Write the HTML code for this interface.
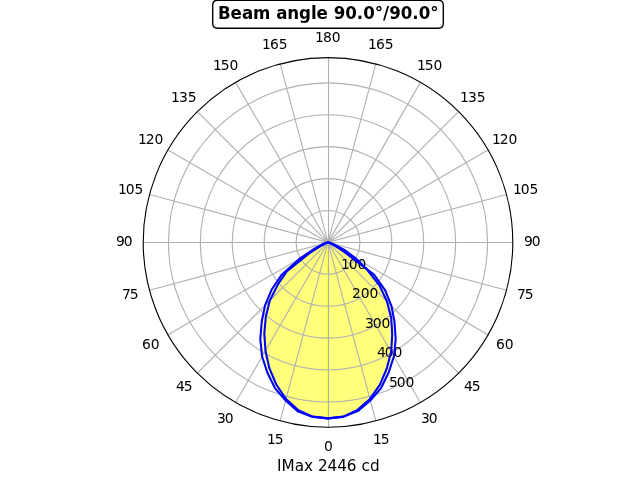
<!DOCTYPE html>
<html><head><meta charset="utf-8"><title>Beam angle 90.0°/90.0°</title><style>html,body{margin:0;padding:0;background:#fff;overflow:hidden}svg{display:block;will-change:transform}</style></head><body>
<svg width="640" height="480" viewBox="0 0 640 480">
<rect width="640" height="480" fill="#fff"/>
<path d="M328.00 418.40L312.73 416.90L298.16 411.61L285.64 400.51L274.96 388.12L267.32 372.53L262.11 356.52L260.29 339.11L261.75 321.35L265.05 305.35L271.54 289.78L281.48 274.98L298.99 259.15L314.99 248.47L322.00 244.58L325.84 242.98L327.37 242.51L327.68 242.43L328.00 242.40L328.00 418.40 Z" fill="#ffff00" fill-opacity="0.3" stroke="#ffff00" stroke-opacity="0.3" stroke-width="1.3889" stroke-linejoin="round"/>
<path d="M328.00 418.40L343.27 416.90L357.75 411.14L370.36 400.51L381.04 388.12L388.68 372.53L393.89 356.52L395.71 339.11L394.45 321.59L391.40 305.80L385.20 290.39L374.00 274.61L343.20 251.17L333.78 245.10L330.40 243.27L328.92 242.65L328.31 242.46L328.16 242.41L328.00 242.40L328.00 418.40 Z" fill="#ffff00" fill-opacity="0.3" stroke="#ffff00" stroke-opacity="0.3" stroke-width="1.3889" stroke-linejoin="round"/>
<path d="M328.00 418.40L312.76 416.59L298.41 410.20L286.05 398.97L276.27 384.52L269.34 368.19L265.46 350.72L264.31 333.36L265.86 316.46L269.79 300.61L277.89 284.44L286.70 271.32L309.49 253.09L320.77 245.77L325.00 243.49L325.84 242.98L327.37 242.51L327.68 242.43L328.00 242.40L328.00 418.40 Z" fill="#ffff00" fill-opacity="0.3" stroke="#ffff00" stroke-opacity="0.3" stroke-width="1.3889" stroke-linejoin="round"/>
<path d="M328.00 418.40L343.24 416.59L357.53 409.88L369.95 398.97L379.84 384.82L386.79 368.48L391.18 351.82L392.24 334.14L391.17 317.68L386.89 301.29L379.57 285.68L367.21 269.85L355.63 258.35L345.35 250.49L335.50 245.13L330.47 243.06L328.94 242.57L328.32 242.43L328.00 242.40L328.00 418.40 Z" fill="#ffff00" fill-opacity="0.3" stroke="#ffff00" stroke-opacity="0.3" stroke-width="1.3889" stroke-linejoin="round"/>
<path d="M328.50 242.40L328.50 427.20M328.00 242.40L375.83 420.90M328.00 242.40L420.40 402.44M328.00 242.40L458.67 373.07M328.00 242.40L488.04 334.80M328.00 242.40L506.50 290.23M328.00 242.50L512.80 242.50M328.00 242.40L506.50 194.57M328.00 242.40L488.04 150.00M328.00 242.40L458.67 111.73M328.00 242.40L420.40 82.36M328.00 242.40L375.83 63.90M328.50 242.40L328.50 57.60M328.00 242.40L280.17 63.90M328.00 242.40L235.60 82.36M328.00 242.40L197.33 111.73M328.00 242.40L167.96 150.00M328.00 242.40L149.50 194.57M328.00 242.50L143.20 242.50M328.00 242.40L149.50 290.23M328.00 242.40L167.96 334.80M328.00 242.40L197.33 373.07M328.00 242.40L235.60 402.44M328.00 242.40L280.17 420.90" stroke="#b0b0b0" stroke-width="1.1111" stroke-linecap="square" fill="none"/>
<circle cx="328.00" cy="242.40" r="31.907" stroke="#b0b0b0" stroke-width="1.1111" fill="none"/>
<circle cx="328.00" cy="242.40" r="63.814" stroke="#b0b0b0" stroke-width="1.1111" fill="none"/>
<circle cx="328.00" cy="242.40" r="95.722" stroke="#b0b0b0" stroke-width="1.1111" fill="none"/>
<circle cx="328.00" cy="242.40" r="127.629" stroke="#b0b0b0" stroke-width="1.1111" fill="none"/>
<circle cx="328.00" cy="242.40" r="159.536" stroke="#b0b0b0" stroke-width="1.1111" fill="none"/>
<g font-family="DejaVu Sans, Liberation Sans, sans-serif" text-anchor="middle" fill="#000">
<text x="323.875" y="450.992" font-size="13.8889" text-anchor="start">0</text>
<text x="372.875 380.750" y="443.907" font-size="13.8889" text-anchor="start">15</text>
<text x="420.875 428.625" y="423.003" font-size="13.8889" text-anchor="start">30</text>
<text x="463.875 471.625" y="391.045" font-size="13.8889" text-anchor="start">45</text>
<text x="495.875 504.750" y="348.994" font-size="13.8889" text-anchor="start">60</text>
<text x="516.875 524.625" y="298.985" font-size="13.8889" text-anchor="start">75</text>
<text x="523.875 531.750" y="246.122" font-size="13.8889" text-anchor="start">90</text>
<text x="512.875 520.750 529.500" y="194.010" font-size="13.8889" text-anchor="start">105</text>
<text x="491.875 499.750 508.500" y="144.000" font-size="13.8889" text-anchor="start">120</text>
<text x="460.000 467.875 476.625" y="101.950" font-size="13.8889" text-anchor="start">135</text>
<text x="416.875 424.750 433.500" y="69.991" font-size="13.8889" text-anchor="start">150</text>
<text x="368.000 375.875 384.750" y="49.087" font-size="13.8889" text-anchor="start">165</text>
<text x="315.000 322.875 331.750" y="41.878" font-size="13.8889" text-anchor="start">180</text>
<text x="262.000 269.875 278.750" y="49.087" font-size="13.8889" text-anchor="start">165</text>
<text x="212.875 220.750 229.500" y="69.991" font-size="13.8889" text-anchor="start">150</text>
<text x="171.000 178.875 187.625" y="101.950" font-size="13.8889" text-anchor="start">135</text>
<text x="137.875 145.750 154.500" y="144.000" font-size="13.8889" text-anchor="start">120</text>
<text x="117.875 125.750 134.500" y="194.010" font-size="13.8889" text-anchor="start">105</text>
<text x="115.875 123.750" y="246.122" font-size="13.8889" text-anchor="start">90</text>
<text x="121.875 129.625" y="298.985" font-size="13.8889" text-anchor="start">75</text>
<text x="141.875 150.750" y="348.994" font-size="13.8889" text-anchor="start">60</text>
<text x="175.875 183.625" y="391.045" font-size="13.8889" text-anchor="start">45</text>
<text x="216.875 224.625" y="423.003" font-size="13.8889" text-anchor="start">30</text>
<text x="266.875 274.750" y="443.907" font-size="13.8889" text-anchor="start">15</text>
<text x="340.875 348.750 357.500" y="269.101" font-size="13.8889" text-anchor="start">100</text>
<text x="351.875 360.625 369.375" y="298.079" font-size="13.8889" text-anchor="start">200</text>
<text x="364.875 372.625 381.375" y="328.057" font-size="13.8889" text-anchor="start">300</text>
<text x="376.875 384.625 393.375" y="357.036" font-size="13.8889" text-anchor="start">400</text>
<text x="388.875 396.625 405.375" y="387.014" font-size="13.8889" text-anchor="start">500</text>
</g>
<path d="M328.00 242.40L327.68 242.43L327.37 242.51L325.84 242.98L322.00 244.58L314.99 248.47L298.99 259.15L281.48 274.98L271.54 289.78L265.05 305.35L261.75 321.35L260.29 339.11L262.11 356.52L267.32 372.53L274.96 388.12L285.64 400.51L298.16 411.61L312.73 416.90L328.00 418.40L343.27 416.90L357.75 411.14L370.36 400.51L381.04 388.12L388.68 372.53L393.89 356.52L395.71 339.11L394.45 321.59L391.40 305.80L385.20 290.39L374.00 274.61L343.20 251.17L333.78 245.10L330.40 243.27L328.92 242.65L328.31 242.46L328.16 242.41L328.00 242.40" stroke="#0000ff" stroke-width="2.0833" stroke-linejoin="round" stroke-linecap="square" fill="none"/>
<path d="M328.00 242.40L327.68 242.43L327.37 242.51L325.84 242.98L325.00 243.49L320.77 245.77L309.49 253.09L286.70 271.32L277.89 284.44L269.79 300.61L265.86 316.46L264.31 333.36L265.46 350.72L269.34 368.19L276.27 384.52L286.05 398.97L298.41 410.20L312.76 416.59L328.00 418.40L343.24 416.59L357.53 409.88L369.95 398.97L379.84 384.82L386.79 368.48L391.18 351.82L392.24 334.14L391.17 317.68L386.89 301.29L379.57 285.68L367.21 269.85L355.63 258.35L345.35 250.49L335.50 245.13L330.47 243.06L328.94 242.57L328.32 242.43L328.00 242.40" stroke="#0000ff" stroke-width="2.0833" stroke-linejoin="round" stroke-linecap="square" fill="none"/>
<circle cx="328.00" cy="242.40" r="184.800" stroke="#000" stroke-width="1.1111" fill="none"/>
<path d="M217.688 28.222L438.312 28.222Q443.312 28.222 443.312 23.222L443.312 5.222Q443.312 0.222 438.312 0.222L217.688 0.222Q212.688 0.222 212.688 5.222L212.688 23.222Q212.688 28.222 217.688 28.222Z" fill="#fff" stroke="#000" stroke-width="1.3889" stroke-linejoin="miter"/>
<g font-family="DejaVu Sans, Liberation Sans, sans-serif" text-anchor="middle" fill="#000">
<text transform="translate(218.000 18.85) scale(1 1.05)" x="0.000 12.625 24.000 35.125 52.500 58.250 69.375 81.125 93.000 98.625 110.000 115.750 127.375 138.875 145.250 156.750 165.125 171.250 182.875 194.375 200.750 212.250" font-size="16.6667" font-weight="bold" text-anchor="start">Beam angle 90.0°/90.0°</text>
<text x="277.000 281.500 294.625 304.000 313.000 317.875 327.500 337.125 346.750 356.500 361.375 369.875" y="471.094" font-size="15.2778" text-anchor="start">IMax 2446 cd</text>
</g>
</svg>
</body></html>
